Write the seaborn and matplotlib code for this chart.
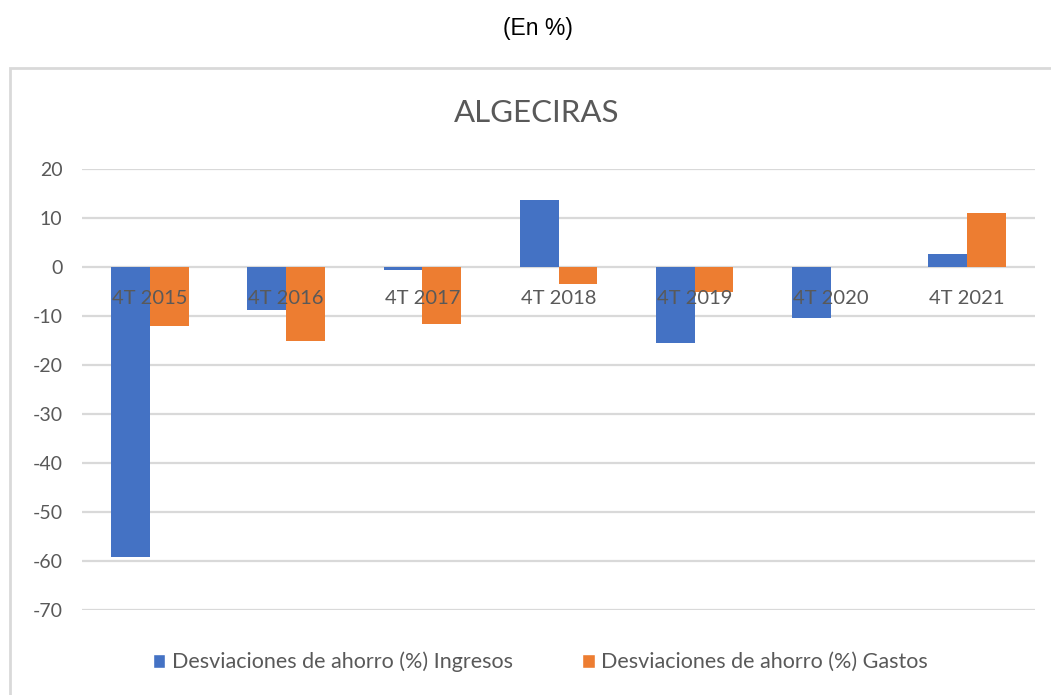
import matplotlib
matplotlib.use("Agg")
import matplotlib.pyplot as plt
import seaborn as sns
import pandas as pd
from matplotlib.patches import Rectangle, Patch

categories = ["4T 2015", "4T 2016", "4T 2017", "4T 2018", "4T 2019", "4T 2020", "4T 2021"]
ingresos = [-59.1, -8.8, -0.7, 13.6, -15.6, -10.4, 2.6]
gastos = [-12.0, -15.1, -11.6, -3.4, -5.1, 0.0, 11.0]
series_names = ["Desviaciones de ahorro (%) Ingresos", "Desviaciones de ahorro (%) Gastos"]
colors = ["#4472C4", "#ED7D31"]
yticks = [20, 10, 0, -10, -20, -30, -40, -50, -60, -70]

df = pd.DataFrame({
    "cat": categories * 2,
    "value": ingresos + gastos,
    "serie": [series_names[0]] * len(categories) + [series_names[1]] * len(categories),
})

sns.set_theme(style="white")
plt.rcParams["font.family"] = ["Lato", "DejaVu Sans"]
grey = "#595959"

fig = plt.figure(figsize=(10.51, 6.95), dpi=100)
ax = fig.add_axes([82 / 1051, 1 - 610 / 695, (1035 - 82) / 1051, (610 - 169) / 695])

sns.barplot(data=df, x="cat", y="value", hue="serie", hue_order=series_names,
            order=categories, palette=colors, width=0.57, gap=0, ax=ax,
            legend=False, saturation=1, errorbar=None, linewidth=0)

ax.set_ylim(-70, 20)
ax.set_yticks(yticks)
ax.set_yticklabels([str(t) for t in yticks], color=grey, fontsize=14)
ax.set_xlim(-0.5, len(categories) - 0.5)
ax.set_xticks([])
ax.set_xlabel("")
ax.set_ylabel("")
ax.tick_params(axis="y", length=0, pad=14)
for s in ax.spines.values():
    s.set_visible(False)
ax.yaxis.grid(True, color="#D9D9D9", linewidth=1.6)
ax.set_axisbelow(True)
ax.set_facecolor("none")

for i, c in enumerate(categories):
    ax.annotate(c, xy=(i, 0), xytext=(0, -22.5), textcoords="offset points",
                ha="center", va="center", color=grey, fontsize=14.5)

# chart frame
fig.patches.append(Rectangle((10 / 1051, -0.05), 1.2, 1 - 68 / 695 + 0.05,
                             transform=fig.transFigure, fill=False,
                             edgecolor="#D9D9D9", linewidth=2, zorder=0))

fig.text(0.5105, 1 - 113 / 695, "ALGECIRAS", ha="center", va="center",
         color=grey, fontsize=22.5)
fig.text(0.512, 1 - 28 / 695, "(En %)", ha="center", va="center",
         color="black", fontsize=16.5, family=["Liberation Sans", "DejaVu Sans"])

handles = [Patch(facecolor=colors[0]), Patch(facecolor=colors[1])]
leg = fig.legend(handles, series_names, loc="center", bbox_to_anchor=(0.514, 1 - 662 / 695),
                 ncol=2, frameon=False, fontsize=15.5, handlelength=0.6, handleheight=0.6,
                 handletextpad=0.3, columnspacing=3.2)
for t in leg.get_texts():
    t.set_color(grey)

fig.savefig("out.png", dpi=100)
